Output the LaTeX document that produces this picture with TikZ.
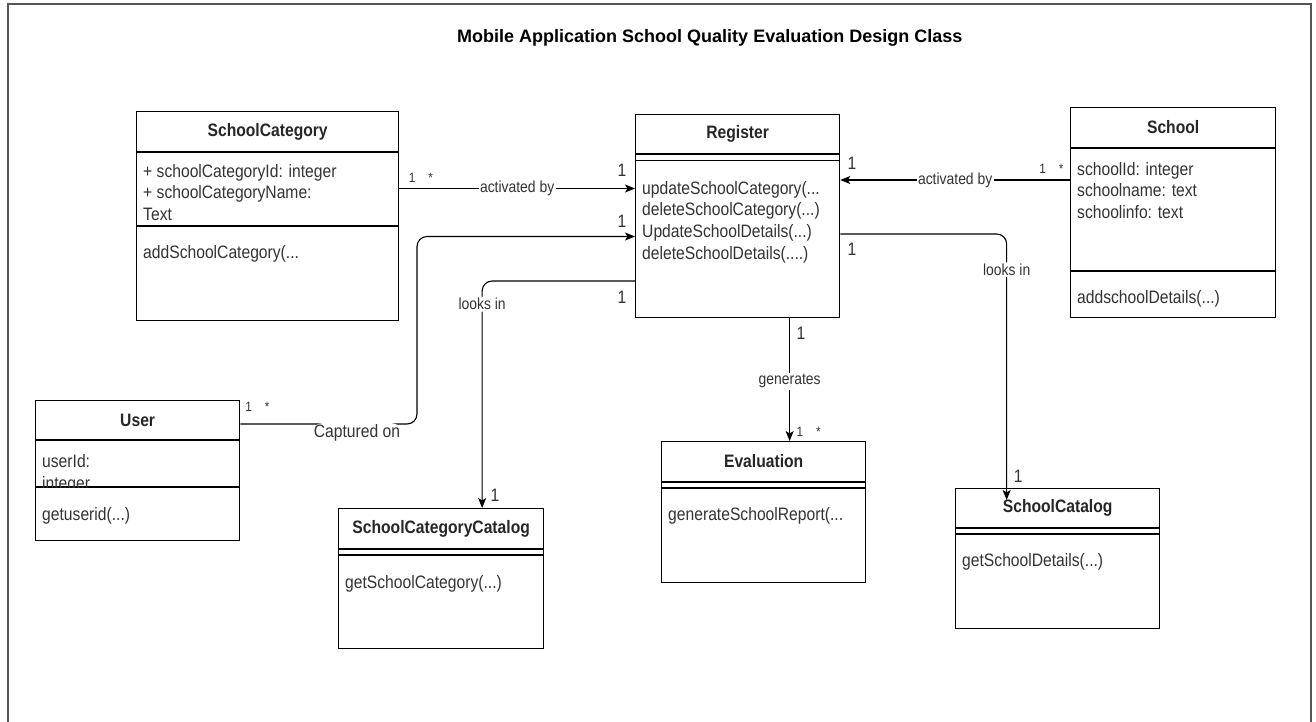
\documentclass[tikz,border=0pt]{standalone}
\usepackage{fontspec}
\setmainfont{Liberation Sans}[FakeStretch=0.87]
\newfontfamily\titlefont{Liberation Sans}
\usetikzlibrary{arrows.meta}
\definecolor{txt}{RGB}{51,51,51}
\definecolor{framegray}{RGB}{85,85,85}

\tikzset{
    classbox/.style={draw, line width=1.3pt, anchor=north west, inner sep=0pt},
    compline/.style={line width=1.3pt},
    classname/.style={font=\fontsize{18}{21.7}\selectfont\bfseries, text=black!85, inner sep=0pt},
    classtext/.style={font=\fontsize{18}{21.7}\selectfont, text=txt, anchor=north west, align=left, inner sep=0pt},
    assoc/.style={line width=1.1pt, -{Stealth[length=10pt,width=8pt,inset=2.5pt]}},
    edgelbl/.style={font=\fontsize{16}{19}\selectfont, text=txt, fill=white, inner sep=1.5pt},
    multlbl/.style={font=\fontsize{18}{21}\selectfont, text=txt, inner sep=0pt},
    smallmult/.style={font=\fontsize{13.5}{15}\selectfont, text=txt, inner sep=0pt},
}

\begin{document}
\begin{tikzpicture}[x=1pt, y=-1pt]
    \fill[white] (0,0) rectangle (1316,721);
    \useasboundingbox (0,0) rectangle (1316,721);
    \draw[line width=2pt, framegray] (7.5,730) |- (1311,4) -- (1311,730);

    \node[anchor=west, inner sep=0pt, font=\titlefont\fontsize{18}{21}\selectfont\bfseries] (title) at (457,37.5) {Mobile Application School Quality Evaluation Design Class};

    \node[classbox, minimum width=262pt, minimum height=209pt] (cat) at (136,111) {};
    \draw[compline] ([yshift=-41pt]cat.north west) -- ([yshift=-41pt]cat.north east);
    \draw[compline] ([yshift=-115pt]cat.north west) -- ([yshift=-115pt]cat.north east);
    \node[classname] (catName) at ([yshift=-20.5pt]cat.north) {SchoolCategory};
    \node[classtext] (catAttr) at (143,164) {+ schoolCategoryId: integer\\+ schoolCategoryName:\\Text};
    \node[classtext] (catOps) at (143,245) {addSchoolCategory(...};

    \node[classbox, minimum width=204pt, minimum height=203pt] (reg) at (635,114) {};
    \draw[compline] ([yshift=-40pt]reg.north west) -- ([yshift=-40pt]reg.north east);
    \draw[compline] ([yshift=-46.5pt]reg.north west) -- ([yshift=-46.5pt]reg.north east);
    \node[classname] (regName) at ([yshift=-20pt]reg.north) {Register};
    \node[classtext] (regOps) at (642,181) {updateSchoolCategory(...\\deleteSchoolCategory(...)\\UpdateSchoolDetails(...)\\deleteSchoolDetails(....)};

    \node[classbox, minimum width=205pt, minimum height=210pt] (school) at (1070,107) {};
    \draw[compline] ([yshift=-41pt]school.north west) -- ([yshift=-41pt]school.north east);
    \draw[compline] ([yshift=-164pt]school.north west) -- ([yshift=-164pt]school.north east);
    \node[classname] (schoolName) at ([yshift=-20.5pt]school.north) {School};
    \node[classtext] (schoolAttr) at (1077,162) {schoolId: integer\\schoolname: text\\schoolinfo: text};
    \node[classtext] (schoolOps) at (1077,290) {addschoolDetails(...)};

    \node[classbox, minimum width=204pt, minimum height=140pt] (user) at (35,400) {};
    \draw[compline] ([yshift=-40pt]user.north west) -- ([yshift=-40pt]user.north east);
    \draw[compline] ([yshift=-87pt]user.north west) -- ([yshift=-87pt]user.north east);
    \node[classname] (userName) at ([yshift=-20pt]user.north) {User};
    \begin{scope}
        \clip (user.north west) rectangle ([yshift=-87pt]user.north east);
        \node[classtext] (userAttr) at (42,454.5) {userId:\\integer};
    \end{scope}
    \node[classtext] (userOps) at (42,507) {getuserid(...)};

    \node[classbox, minimum width=205pt, minimum height=140pt] (scc) at (338,508) {};
    \draw[compline] ([yshift=-41pt]scc.north west) -- ([yshift=-41pt]scc.north east);
    \draw[compline] ([yshift=-47pt]scc.north west) -- ([yshift=-47pt]scc.north east);
    \node[classname] (sccName) at ([yshift=-20.5pt]scc.north) {SchoolCategoryCatalog};
    \node[classtext] (sccOps) at (345,575) {getSchoolCategory(...)};

    \node[classbox, minimum width=204pt, minimum height=141pt] (eval) at (661,441) {};
    \draw[compline] ([yshift=-41pt]eval.north west) -- ([yshift=-41pt]eval.north east);
    \draw[compline] ([yshift=-47pt]eval.north west) -- ([yshift=-47pt]eval.north east);
    \node[classname] (evalName) at ([yshift=-20.5pt]eval.north) {Evaluation};
    \node[classtext] (evalOps) at (668,507) {generateSchoolReport(...};

    \node[classbox, minimum width=204pt, minimum height=140pt] (scat) at (955,488) {};
    \draw[compline] ([yshift=-40pt]scat.north west) -- ([yshift=-40pt]scat.north east);
    \draw[compline] ([yshift=-46pt]scat.north west) -- ([yshift=-46pt]scat.north east);
    \node[classname] (scatName) at ([yshift=-20pt]scat.north) {SchoolCatalog};
    \node[classtext] (scatOps) at (962,553.5) {getSchoolDetails(...)};

    \coordinate (catOut) at ([yshift=-77.5pt]cat.north east);
    \draw[assoc] (catOut) -- node[edgelbl] (actA) {activated by} (catOut -| reg.west);

    \coordinate (schoolOut) at ([yshift=-73pt]school.north west);
    \draw[assoc] (schoolOut) -- node[edgelbl] (actB) {activated by} (schoolOut -| reg.east);

    \coordinate (userOut) at ([yshift=-24pt]user.north east);
    \coordinate (regCap) at ([yshift=-122.5pt]reg.north west);
    \draw[assoc, rounded corners=10pt] (userOut) -| node[edgelbl, pos=0.33, yshift=-9pt, font=\fontsize{18}{21}\selectfont] (cap) {Captured on} ([xshift=-218pt]regCap) -- (regCap);

    \coordinate (regLookA) at ([yshift=-167pt]reg.north west);
    \draw[assoc, rounded corners=10pt] (regLookA) -| node[edgelbl, pos=0.551] (lookA) {looks in} ([xshift=41pt]scc.north);

    \coordinate (regLookB) at ([yshift=-120pt]reg.north east);
    \draw[assoc, rounded corners=10pt] (regLookB) -| node[edgelbl, pos=0.567] (lookB) {looks in} ([xshift=-51pt,yshift=-12pt]scat.north);

    \coordinate (regGen) at ([xshift=52pt]reg.south);
    \draw[assoc] (regGen) -- node[edgelbl, pos=0.513] (gen) {generates} (regGen |- eval.north);

    \node[smallmult] (mCatA) at (421,177.5) {1\hspace{13pt}*};
    \node[multlbl] (mRegA) at (622,170) {1};
    \node[multlbl] (mRegB) at (852,163) {1};
    \node[smallmult] (mSchool) at (1051.5,169) {1\hspace{13pt}*};
    \node[smallmult] (mUser) at (257.5,407) {1\hspace{13pt}*};
    \node[multlbl] (mRegC) at (622,221.7) {1};
    \node[multlbl] (mRegD) at (622,297) {1};
    \node[multlbl] (mScc) at (495,495) {1};
    \node[multlbl] (mRegE) at (852,249.3) {1};
    \node[multlbl] (mScat) at (1018.3,476.7) {1};
    \node[multlbl] (mRegF) at (801,333.3) {1};
    \node[smallmult] (mEval) at (808.7,431.7) {1\hspace{13pt}*};
\end{tikzpicture}
\end{document}
